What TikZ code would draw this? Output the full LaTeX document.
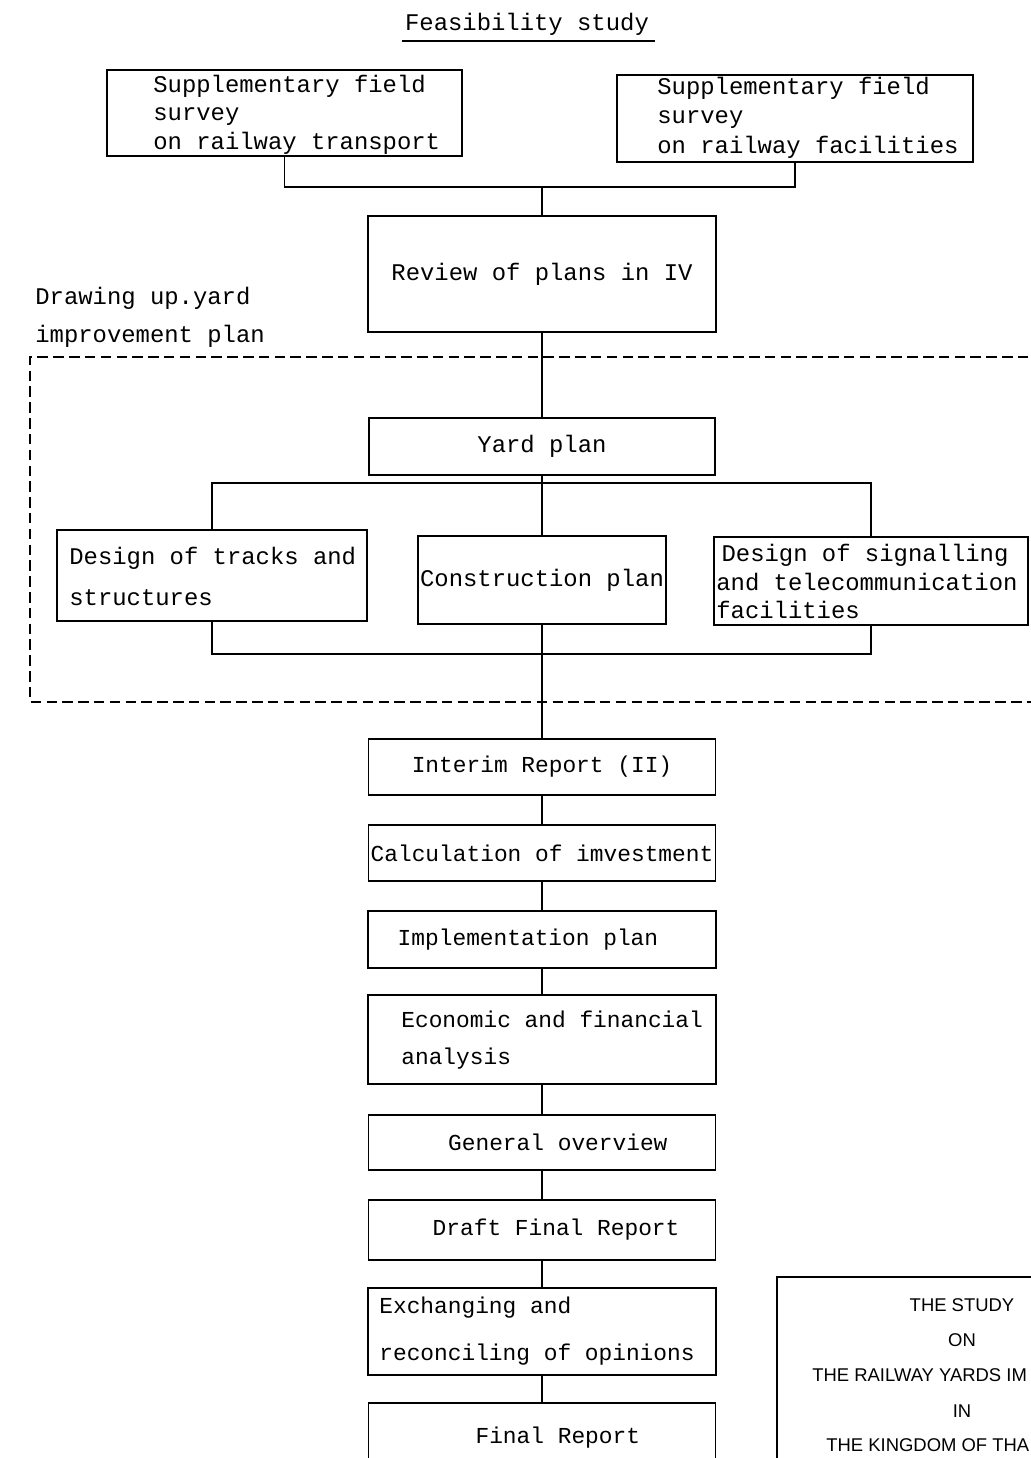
\documentclass[tikz,border=0pt]{standalone}
\usepackage{fontspec}
\setmainfont{Liberation Mono}
\newfontfamily\capsfont{Liberation Sans}
\begin{document}
\begin{tikzpicture}[x=0.02cm,y=-0.02cm,
  box/.style={draw, line width=0.9pt, inner sep=0pt, font=\fontsize{13pt}{16pt}\selectfont},
  txt/.style={inner sep=0pt, align=left, anchor=west, font=\fontsize{13.6pt}{#1}\selectfont},
  conn/.style={line width=0.9pt},
  dashbox/.style={line width=0.6pt, dash pattern=on 6pt off 3pt},
  caps/.style={inner sep=0pt, font=\capsfont\fontsize{10.5pt}{12pt}\selectfont}]
\useasboundingbox (0,0) rectangle (1031,1458);
\fill[white] (0,0) rectangle (1031,1458);
\clip (0,0) rectangle (1031,1458);

% title
\node[txt=16pt, anchor=center] (title) at (527,24) {Feasibility study};
\draw[line width=0.8pt] (402,41) -- (655,41);

% top boxes
\node[box, minimum width=7.10cm, minimum height=1.72cm] (A) at (284.5,113) {};
\node[txt=16.2pt] (At) at (153,114.5) {Supplementary field\\survey\\on railway transport};
\node[box, minimum width=7.12cm, minimum height=1.74cm] (B) at (795,118.5) {};
\node[txt=16.7pt] (Bt) at (657,117.5) {Supplementary field\\survey\\on railway facilities};

\node[box, minimum width=6.96cm, minimum height=2.32cm] (C) at (542,274) {\fontsize{13.6pt}{16pt}\selectfont Review of plans in IV};

\node[txt=21.5pt] (draw) at (35,317) {Drawing up.yard\\improvement plan};

% dashed frame
\draw[dashbox] (1060,357) -- (30,357) -- (30,702) -- (1060,702);

\node[box, minimum width=6.92cm, minimum height=1.14cm] (Y) at (542,446.5) {\fontsize{13.6pt}{16pt}\selectfont Yard plan};

\node[box, minimum width=6.2cm, minimum height=1.82cm] (D) at (212,575.5) {};
\node[txt=23.2pt] (Dt) at (69,576.5) {Design of tracks and\\structures};
\node[box, minimum width=4.96cm, minimum height=1.76cm] (E) at (542,580) {\fontsize{13.6pt}{16pt}\selectfont Construction plan};
\node[box, minimum width=6.28cm, minimum height=1.76cm] (F) at (871,581) {};
\node[txt=16.2pt] (Ft) at (716,581.5) {\hspace*{3pt}Design of signalling\\and telecommunication\\facilities};

% central column
\node[box, minimum width=6.94cm, minimum height=1.12cm] (I1) at (542,767) {Interim Report (II)};
\node[box, minimum width=6.94cm, minimum height=1.12cm] (I2) at (542,853) {Calculation of imvestment};
\node[box, minimum width=6.96cm, minimum height=1.14cm] (I3) at (542,939.5) {Implementation plan\hspace*{16pt}};
\node[box, minimum width=6.96cm, minimum height=1.78cm] (I4) at (542,1039.5) {};
\node[txt=21.5pt, font=\fontsize{13pt}{21.5pt}\selectfont] (I4t) at (401,1040) {Economic and financial\\analysis};
\node[box, minimum width=6.94cm, minimum height=1.10cm] (I5) at (542,1142.5) {\hspace*{18pt}General overview};
\node[box, minimum width=6.94cm, minimum height=1.20cm] (I6) at (542,1230) {\hspace*{16pt}Draft Final Report};
\node[box, minimum width=6.96cm, minimum height=1.74cm] (I7) at (542,1331.5) {};
\node[txt=27.2pt, font=\fontsize{13pt}{27.2pt}\selectfont] (I7t) at (379,1331) {Exchanging and\\reconciling of opinions};
\node[box, minimum width=6.94cm, minimum height=1.40cm] (I8) at (542,1438) {\hspace*{18pt}Final Report};

% bottom right box
\node[box, minimum width=5.66cm, minimum height=4.06cm] (R) at (918.5,1378.5) {};
\node[caps] (R1) at (962,1305) {THE STUDY};
\node[caps] (R2) at (962,1340) {ON};
\node[caps, anchor=west] (R3) at (812,1375) {THE RAILWAY YARDS IM};
\node[caps] (R4) at (962,1411) {IN};
\node[caps, anchor=west] (R5) at (826,1445) {THE KINGDOM OF THA};

% connectors
\coordinate (j1) at (542,187);
\draw[conn] (A.south) |- (j1) -| (B.south);
\draw[conn] (j1) -- (C.north);
\draw[conn] (C.south) -- (Y.north);
\coordinate (j2) at (542,483);
\draw[conn] (D.north) |- (j2) -| (F.north);
\draw[conn] (Y.south) -- (E.north);
\coordinate (j3) at (542,654);
\draw[conn] (D.south) |- (j3) -| (F.south);
\draw[conn] (E.south) -- (I1.north);
\draw[conn] (I1.south) -- (I2.north);
\draw[conn] (I2.south) -- (I3.north);
\draw[conn] (I3.south) -- (I4.north);
\draw[conn] (I4.south) -- (I5.north);
\draw[conn] (I5.south) -- (I6.north);
\draw[conn] (I6.south) -- (I7.north);
\draw[conn] (I7.south) -- (I8.north);
\end{tikzpicture}
\end{document}
